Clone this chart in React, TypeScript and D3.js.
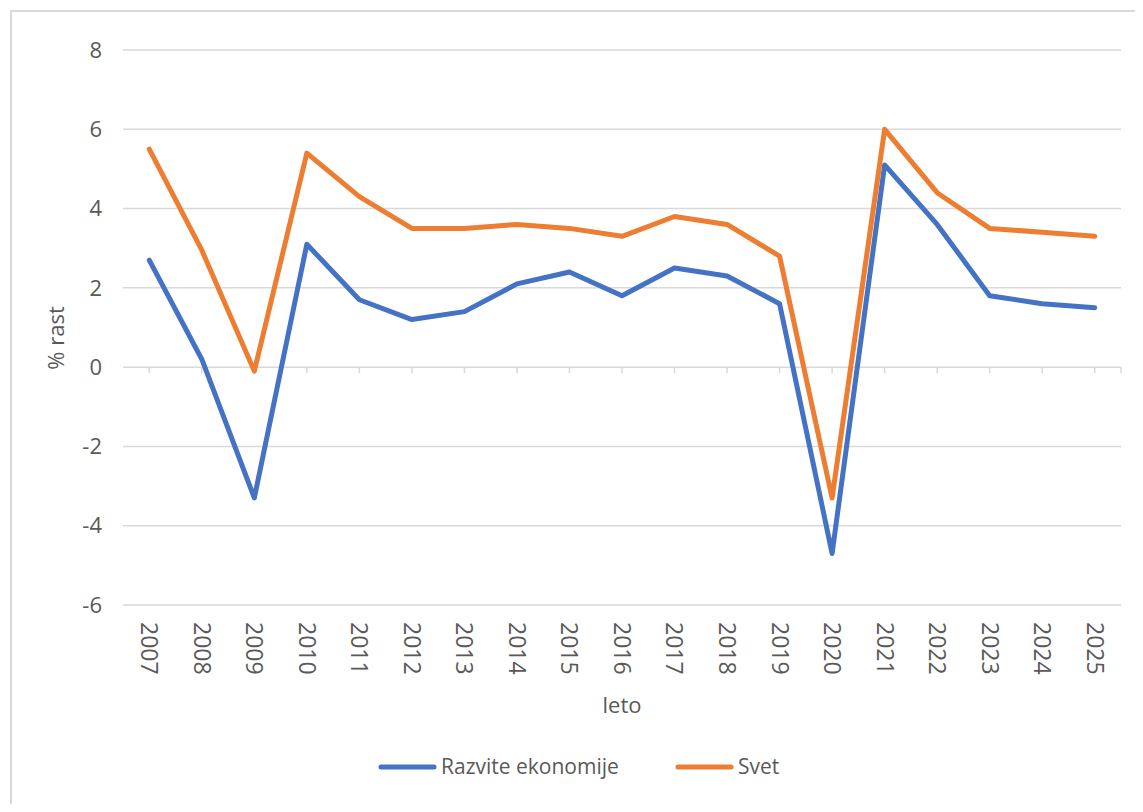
import React from "react";
import * as d3 from "d3";

const years = ["2007","2008","2009","2010","2011","2012","2013","2014","2015","2016","2017","2018","2019","2020","2021","2022","2023","2024","2025"];
const razvite = [2.7, 0.2, -3.3, 3.1, 1.7, 1.2, 1.4, 2.1, 2.4, 1.8, 2.5, 2.3, 1.6, -4.7, 5.1, 3.6, 1.8, 1.6, 1.5];
const svet = [5.5, 2.95, -0.1, 5.4, 4.3, 3.5, 3.5, 3.6, 3.5, 3.3, 3.8, 3.6, 2.8, -3.3, 6.0, 4.4, 3.5, 3.4, 3.3];
const yTicks = [-6, -4, -2, 0, 2, 4, 6, 8];
const seriesNames = ["Razvite ekonomije", "Svet"];
const colors = ["#4472C4", "#ED7D31"];

const W = 1143, H = 812;
const FONT = "'Open Sans', 'Liberation Sans', sans-serif";
const TXT = "#595959";

export default function App() {
  const left = 123, right = 1121, top = 50, bottom = 605;
  const x = d3.scaleBand<string>().domain(years).range([left, right]);
  const y = d3.scaleLinear().domain([-6, 8]).range([bottom, top]);
  const cx = (yr: string) => (x(yr) as number) + x.bandwidth() / 2;
  const line = d3.line<number>().x((_, i) => cx(years[i])).y((v) => y(v));
  const data = [razvite, svet];

  return (
    <svg width={W} height={H} style={{ display: "block", margin: -8 }} fontFamily={FONT}>
      <rect x={0} y={0} width={W} height={H} fill="#fff" />
      <rect x={11} y={11} width={1300} height={1000} fill="none" stroke="#d9d9d9" strokeWidth={2} />
      {yTicks.map((t) => (
        <g key={t}>
          <line x1={left} x2={right} y1={y(t)} y2={y(t)} stroke="#d9d9d9" strokeWidth={1.5} />
          <text x={102} y={y(t)} dy="0.35em" textAnchor="end" fontSize={22} fill={TXT}>{t}</text>
        </g>
      ))}
      {years.map((yr) => (
        <line key={"t" + yr} x1={cx(yr)} x2={cx(yr)} y1={y(0)} y2={y(0) + 6} stroke="#d9d9d9" strokeWidth={1.5} />
      ))}
      <line x1={right} x2={right} y1={y(0)} y2={y(0) + 6} stroke="#d9d9d9" strokeWidth={1.5} />
      {years.map((yr) => (
        <text key={"l" + yr} transform={`translate(${cx(yr)},${622}) rotate(90)`} dy="0.35em" fontSize={23} fill={TXT}>{yr}</text>
      ))}
      {data.map((d, i) => (
        <path key={i} d={line(d) as string} fill="none" stroke={colors[i]} strokeWidth={5} strokeLinejoin="round" strokeLinecap="round" />
      ))}
      <text x={(left + right) / 2} y={713} textAnchor="middle" fontSize={22} fill={TXT}>leto</text>
      <text transform={`translate(64,338) rotate(-90)`} textAnchor="middle" fontSize={22} fill={TXT}>% rast</text>
      {seriesNames.map((n, i) => {
        const lx = i === 0 ? 379 : 676;
        return (
          <g key={n}>
            <line x1={lx + 2} x2={lx + 55} y1={767} y2={767} stroke={colors[i]} strokeWidth={5} strokeLinecap="round" />
            <text x={lx + 62} y={767} dy="0.35em" fontSize={21} fill={TXT}>{n}</text>
          </g>
        );
      })}
    </svg>
  );
}
